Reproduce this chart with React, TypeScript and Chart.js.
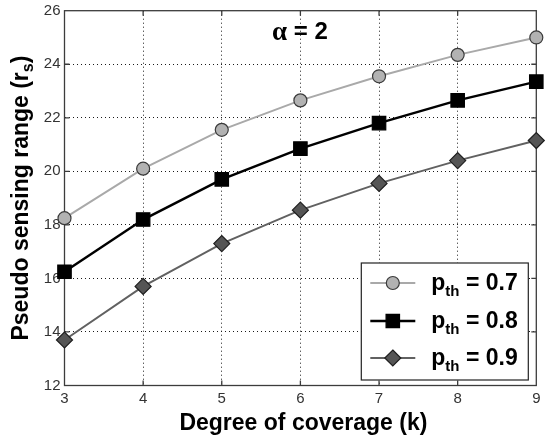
import React, { useEffect, useRef } from "react";
import { Chart, registerables } from "chart.js";

Chart.register(...registerables);

// Degree of coverage k on the x axis
const coverage = [3, 4, 5, 6, 7, 8, 9];
// Pseudo sensing range for each detection threshold p_th
const rangeP07 = [18.25, 20.1, 21.55, 22.65, 23.55, 24.35, 25.0];
const rangeP08 = [16.25, 18.2, 19.7, 20.85, 21.8, 22.65, 23.35];
const rangeP09 = [13.7, 15.7, 17.3, 18.55, 19.55, 20.4, 21.15];
const thresholdLabels = ["0.7", "0.8", "0.9"];

const xMin = 3;
const xMax = 9;
const yMin = 12;
const yMax = 26;
const yStep = 2;

const xTitle = "Degree of coverage (k)";
const yTitleMain = "Pseudo sensing range (r";
const yTitleSub = "s";
const yTitleEnd = ")";
const alphaSymbol = "\u03b1";
const alphaText = " = 2";
const alphaAt = { x: 5.64, y: 25.18 };

const SANS = "Arial, 'Liberation Sans', Helvetica, sans-serif";
const SERIF = "'Liberation Serif', 'DejaVu Serif', serif";

type Style = {
  line: string;
  fill: string;
  border: string;
  shape: "circle" | "rect" | "rectRot";
  radius: number;
  width: number;
};

const styles: Style[] = [
  { line: "#a9a9a9", fill: "#b2b2b2", border: "#3a3a3a", shape: "circle", radius: 6.5, width: 2 },
  { line: "#000000", fill: "#000000", border: "#000000", shape: "rect", radius: 9.5, width: 2.5 },
  { line: "#616161", fill: "#555555", border: "#1e1e1e", shape: "rectRot", radius: 8, width: 2 },
];

const seriesValues = [rangeP07, rangeP08, rangeP09];

function drawMarker(ctx: CanvasRenderingContext2D, s: Style, x: number, y: number) {
  ctx.save();
  ctx.fillStyle = s.fill;
  ctx.strokeStyle = s.border;
  ctx.lineWidth = 1.2;
  ctx.beginPath();
  if (s.shape === "circle") {
    ctx.arc(x, y, s.radius, 0, Math.PI * 2);
  } else if (s.shape === "rect") {
    const h = s.radius * Math.SQRT1_2;
    ctx.rect(x - h, y - h, 2 * h, 2 * h);
  } else {
    ctx.moveTo(x, y - s.radius);
    ctx.lineTo(x + s.radius, y);
    ctx.lineTo(x, y + s.radius);
    ctx.lineTo(x - s.radius, y);
    ctx.closePath();
  }
  ctx.fill();
  ctx.stroke();
  ctx.restore();
}

const framePlugin = {
  id: "frameAndTicks",
  beforeDatasetsDraw(chart: any) {
    const { ctx, chartArea: a, scales } = chart;
    ctx.save();
    ctx.strokeStyle = "#3c3c3c";
    ctx.lineWidth = 1.3;
    ctx.strokeRect(a.left, a.top, a.right - a.left, a.bottom - a.top);
    const tl = 5;
    ctx.beginPath();
    for (let v = xMin + 1; v < xMax; v++) {
      const px = scales.x.getPixelForValue(v);
      ctx.moveTo(px, a.bottom);
      ctx.lineTo(px, a.bottom - tl);
      ctx.moveTo(px, a.top);
      ctx.lineTo(px, a.top + tl);
    }
    for (let v = yMin + yStep; v < yMax; v += yStep) {
      const py = scales.y.getPixelForValue(v);
      ctx.moveTo(a.left, py);
      ctx.lineTo(a.left + tl, py);
      ctx.moveTo(a.right, py);
      ctx.lineTo(a.right - tl, py);
    }
    ctx.stroke();
    ctx.restore();
  },
  afterDraw(chart: any) {
    const { ctx, chartArea: a, scales } = chart;
    ctx.save();
    ctx.fillStyle = "#000";

    // x axis title
    ctx.font = `bold 23px ${SANS}`;
    ctx.textAlign = "center";
    ctx.textBaseline = "alphabetic";
    ctx.fillText(xTitle, (a.left + a.right) / 2 + 3, 430);

    // y axis title with subscript
    ctx.save();
    ctx.translate(28, (a.top + a.bottom) / 2);
    ctx.rotate(-Math.PI / 2);
    const mainFont = `bold 23px ${SANS}`;
    const subFont = `bold 16px ${SANS}`;
    ctx.font = mainFont;
    const w1 = ctx.measureText(yTitleMain).width;
    const w3 = ctx.measureText(yTitleEnd).width;
    ctx.font = subFont;
    const w2 = ctx.measureText(yTitleSub).width;
    const total = w1 + w2 + w3;
    let cx = -total / 2;
    ctx.textAlign = "left";
    ctx.font = mainFont;
    ctx.fillText(yTitleMain, cx, 0);
    cx += w1;
    ctx.font = subFont;
    ctx.fillText(yTitleSub, cx, 5);
    cx += w2;
    ctx.font = mainFont;
    ctx.fillText(yTitleEnd, cx, 0);
    ctx.restore();

    // alpha annotation
    const ax = scales.x.getPixelForValue(alphaAt.x);
    const ay = scales.y.getPixelForValue(alphaAt.y);
    ctx.textAlign = "left";
    ctx.textBaseline = "middle";
    ctx.font = `bold 27px ${SERIF}`;
    ctx.fillText(alphaSymbol, ax, ay);
    const aw = ctx.measureText(alphaSymbol).width;
    ctx.font = `bold 24px ${SANS}`;
    ctx.fillText(alphaText, ax + aw, ay);

    // legend box
    const boxR = a.right - 8;
    const boxB = a.bottom - 5.5;
    const boxL = boxR - 167;
    const boxT = boxB - 117;
    ctx.fillStyle = "#fff";
    ctx.fillRect(boxL, boxT, boxR - boxL, boxB - boxT);
    ctx.strokeStyle = "#222";
    ctx.lineWidth = 1.2;
    ctx.strokeRect(boxL, boxT, boxR - boxL, boxB - boxT);

    const rowY = [boxT + 20, boxT + 58, boxT + 95];
    styles.forEach((s, i) => {
      const y = rowY[i];
      const x0 = boxL + 9;
      const x1 = boxL + 54;
      ctx.strokeStyle = s.line;
      ctx.lineWidth = s.width;
      ctx.beginPath();
      ctx.moveTo(x0, y);
      ctx.lineTo(x1, y);
      ctx.stroke();
      drawMarker(ctx, s, (x0 + x1) / 2, y);

      ctx.fillStyle = "#000";
      ctx.textBaseline = "alphabetic";
      let tx = boxL + 70;
      const base = y + 7;
      ctx.font = `bold 23px ${SANS}`;
      ctx.fillText("p", tx, base);
      tx += ctx.measureText("p").width;
      ctx.font = `bold 15px ${SANS}`;
      ctx.fillText("th", tx, base + 6);
      tx += ctx.measureText("th").width;
      ctx.font = `bold 23px ${SANS}`;
      ctx.fillText(" = " + thresholdLabels[i], tx, base);
    });

    ctx.restore();
  },
};

export default function App() {
  const canvasRef = useRef<HTMLCanvasElement | null>(null);

  useEffect(() => {
    const canvas = canvasRef.current;
    if (!canvas) return;

    const datasets = seriesValues.map((vals, i) => {
      const s = styles[i];
      return {
        label: "p_th = " + thresholdLabels[i],
        data: coverage.map((k, j) => ({ x: k, y: vals[j] })),
        borderColor: s.line,
        borderWidth: s.width,
        backgroundColor: s.fill,
        pointBackgroundColor: s.fill,
        pointBorderColor: s.border,
        pointBorderWidth: 1.2,
        pointStyle: s.shape,
        pointRadius: s.radius,
        pointHoverRadius: s.radius,
        tension: 0,
        fill: false,
        clip: false as any,
      };
    });

    const hideEdges = (lo: number, hi: number) => (c: any) =>
      c.tick && (c.tick.value === lo || c.tick.value === hi) ? "rgba(0,0,0,0)" : "#1a1a1a";

    const chart = new Chart(canvas, {
      type: "line",
      data: { datasets },
      options: {
        animation: false,
        responsive: false,
        maintainAspectRatio: false,
        events: [],
        layout: { padding: { top: 10, right: 4.5, left: 0, bottom: 0 } },
        plugins: {
          legend: { display: false },
          tooltip: { enabled: false },
          title: { display: false },
        },
        scales: {
          x: {
            type: "linear",
            min: xMin,
            max: xMax,
            ticks: {
              stepSize: 1,
              color: "#333333",
              font: { family: SANS, size: 15 },
              padding: 4,
              maxRotation: 0,
            },
            grid: { color: hideEdges(xMin, xMax), lineWidth: 1, drawTicks: false },
            border: { display: false, dash: [1, 3] },
            afterFit(scale: any) {
              scale.height = 54.5;
              scale.paddingLeft = 0;
              scale.paddingRight = 0;
            },
          },
          y: {
            type: "linear",
            min: yMin,
            max: yMax,
            ticks: {
              stepSize: yStep,
              color: "#333333",
              font: { family: SANS, size: 15 },
              padding: 4,
            },
            grid: { color: hideEdges(yMin, yMax), lineWidth: 1, drawTicks: false },
            border: { display: false, dash: [1, 3] },
            afterFit(scale: any) {
              scale.width = 64.5;
              scale.paddingTop = 0;
              scale.paddingBottom = 0;
            },
          },
        },
      },
      plugins: [framePlugin],
    });

    return () => chart.destroy();
  }, []);

  return (
    <div style={{ position: "absolute", left: 0, top: 0, width: 547, height: 440, background: "#fff" }}>
      <canvas ref={canvasRef} width={547} height={440} style={{ display: "block" }} />
    </div>
  );
}
